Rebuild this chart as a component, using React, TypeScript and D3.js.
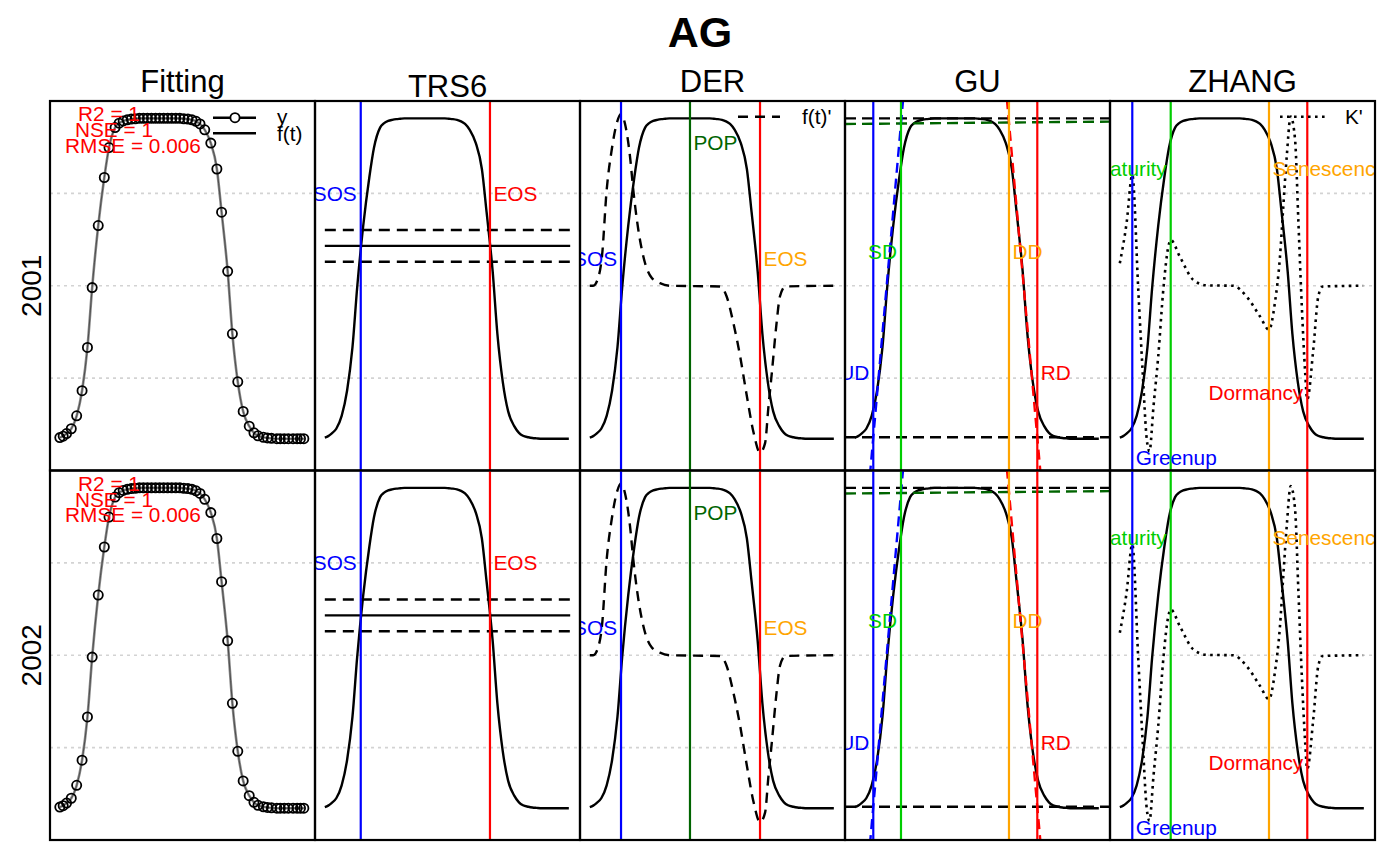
import * as d3 from 'd3'

const FONT = '"Liberation Sans", Arial, Helvetica, sans-serif'

// ---- data ----
const methods = ['Fitting', 'TRS6', 'DER', 'GU', 'ZHANG']
const years = ['2001', '2002']
const chartTitle = 'AG'

// observations (day of year) and fitted values (R2 = 1, so f(t) passes through them)
const obsDay = [1, 6, 11, 18, 26, 34, 42, 49, 58, 67, 74, 83,
  89, 95, 101, 107, 113, 119, 125, 131, 137, 143, 149, 155, 161, 167, 173, 179, 185, 191, 197, 203,
  209, 216, 225, 234, 241, 250, 257, 265, 273, 282, 289, 295,
  303, 309, 315, 323, 328, 334, 340, 347, 353, 358, 363]
const obsVal = [0.089, 0.093, 0.100, 0.113, 0.148, 0.216, 0.333, 0.495, 0.663, 0.793, 0.874, 0.928,
  0.940, 0.946, 0.949, 0.951, 0.952, 0.953, 0.953, 0.953, 0.953, 0.953, 0.953, 0.953, 0.953, 0.953, 0.953, 0.953, 0.952, 0.951, 0.949, 0.945,
  0.938, 0.922, 0.886, 0.816, 0.699, 0.539, 0.370, 0.240, 0.160, 0.120, 0.102, 0.094,
  0.090, 0.088, 0.087, 0.086, 0.086, 0.086, 0.086, 0.086, 0.086, 0.086, 0.086]
const fitStats = ['R2 = 1', 'NSE = 1', 'RMSE = 0.006']

// first derivative f(t)' (rescaled)
const derDay = [1, 6, 14, 19, 26, 33.5, 41, 47.3, 53, 60.6, 65.5, 73, 83, 93, 105, 120,
  194, 204, 214, 224, 234, 244, 253.5, 261, 266, 271, 278, 283, 291, 365]
const derVal = [0.5, 0.5, 0.525, 0.579, 0.759, 0.868, 0.94, 0.965, 0.94, 0.85, 0.759, 0.651, 0.561, 0.521, 0.507, 0.5,
  0.498, 0.471, 0.399, 0.309, 0.201, 0.102, 0.048, 0.074, 0.173, 0.264, 0.398, 0.471, 0.498, 0.5]

// rate of change of curvature K' (rescaled)
const kDay = [1, 11, 19.5, 28.4, 35, 41, 45, 51, 58, 65.5, 73, 76.5, 90, 110, 130, 169, 189, 209, 222.3,
  231, 238.6, 243.5, 248.6, 254.5, 261, 266, 271, 276, 279, 288, 295.4, 302, 362]
const kVal = [0.561, 0.669, 0.8, 0.489, 0.264, 0.084, 0.052, 0.174, 0.309, 0.489, 0.606, 0.624, 0.579, 0.516, 0.501, 0.5, 0.471, 0.417, 0.381,
  0.453, 0.579, 0.714, 0.849, 0.958, 0.895, 0.669, 0.444, 0.264, 0.192, 0.327, 0.471, 0.498, 0.5]

const trsNames = ['SOS', 'EOS']
const trsDates = [54.3, 246]
const trsLevels = [0.565, 0.608, 0.651]

const derNames = ['SOS', 'POP', 'EOS']
const derDates = [47.3, 149.6, 253.5]

const guNames = ['UD', 'SD', 'DD', 'RD']
const guDates = [28.4, 69.5, 229.7, 271.7]
const guBase = 0.09
const guPeak = 0.953
const guPlateau = [0.938, 0.944] // at day 1 and day 365

const zhangNames = ['Greenup', 'Maturity', 'Senescence', 'Dormancy']
const zhangDates = [19.5, 76.5, 222.3, 279.1]

// ---- layout / style ----
const LEFT = 50, PANEL_W = 265, TOP = 101, PANEL_H = 369.5
const dayDomain = [1 - 0.04 * 364, 365 + 0.04 * 364]
const RED = '#FF0000', BLUE = '#0000FF', ORANGE = '#FFA500', DKGREEN = '#006400', GREEN = '#00CD00'
const LW = 2.4
const LABEL_SIZE = 20.8

const labelStyle: Record<string, { line: string[]; text: string[]; side: string[]; level: number[] }> = {
  TRS6:  { line: [BLUE, RED], text: [BLUE, RED], side: ['l', 'r'], level: [0.751, 0.751] },
  DER:   { line: [BLUE, DKGREEN, RED], text: [BLUE, DKGREEN, ORANGE], side: ['l', 'r', 'r'], level: [0.575, 0.887, 0.575] },
  GU:    { line: [BLUE, GREEN, ORANGE, RED], text: [BLUE, GREEN, ORANGE, RED], side: ['l', 'l', 'r', 'r'], level: [0.264, 0.593, 0.593, 0.264] },
  ZHANG: { line: [BLUE, GREEN, ORANGE, RED], text: [BLUE, GREEN, ORANGE, RED], side: ['r', 'l', 'r', 'l'], level: [0.034, 0.818, 0.818, 0.21] },
}

function Panel({ row, col }: { row: number; col: number }) {
  const x = d3.scaleLinear().domain(dayDomain).range([LEFT + col * PANEL_W, LEFT + (col + 1) * PANEL_W])
  const y = d3.scaleLinear().domain([0, 1]).range([TOP + (row + 1) * PANEL_H, TOP + row * PANEL_H])
  const [xl, xr] = x.range()
  const [yb, yt] = y.range()
  const method = methods[col]
  const first = row === 0
  const clipId = `clip-${row}-${col}`
  const line = d3.line<[number, number]>().x(d => x(d[0])).y(d => y(d[1])).curve(d3.curveMonotoneX)
  const fitPath = line(obsDay.map((d, i) => [d, obsVal[i]] as [number, number])) ?? ''

  const vline = (day: number, color: string, key: string) => (
    <line key={key} x1={x(day)} x2={x(day)} y1={yt} y2={yb} stroke={color} strokeWidth={2.2} />
  )
  const label = (day: number, level: number, txt: string, color: string, side: string, key: string) => (
    <text key={key} x={x(day) + (side === 'r' ? 3.5 : -4)} y={y(level)}
      textAnchor={side === 'r' ? 'start' : 'end'} dominantBaseline="central"
      fontSize={LABEL_SIZE} fill={color} fontFamily={FONT}>{txt}</text>
  )
  const hline = (v: number, color: string, dash: string | undefined, key: string, d0 = dayDomain[0], d1 = dayDomain[1]) => (
    <line key={key} x1={x(d0)} x2={x(d1)} y1={y(v)} y2={y(v)} stroke={color} strokeWidth={LW} strokeDasharray={dash} />
  )
  const phenoMarks = (names: string[], dates: number[]) => {
    const s = labelStyle[method]
    return (
      <g>
        {dates.map((d, i) => vline(d, s.line[i], `v${i}`))}
        {dates.map((d, i) => label(d, s.level[i], names[i], s.text[i], s.side[i], `t${i}`))}
      </g>
    )
  }

  let content: any = null
  if (method === 'Fitting') {
    content = (
      <g>
        <path d={fitPath} fill="none" stroke="#8a8a8a" strokeWidth={2.6} />
        <path d={fitPath} fill="none" stroke="#333" strokeWidth={0.7} />
        {obsDay.map((d, i) => (
          <circle key={i} cx={x(d)} cy={y(obsVal[i])} r={4.6} fill="none" stroke="#000" strokeWidth={1.8} />
        ))}
        {fitStats.map((s, i) => (
          <text key={s} x={xl + [59, 64, 83][i]} y={yt + [12.5, 28.5, 44][i]} textAnchor="middle"
            dominantBaseline="central" fontSize={LABEL_SIZE} fill={RED} fontFamily={FONT}>{s}</text>
        ))}
        {first && (
          <g fontFamily={FONT} fontSize={LABEL_SIZE}>
            <line x1={xl + 163} x2={xl + 206} y1={yt + 16.7} y2={yt + 16.7} stroke="#000" strokeWidth={LW} />
            <circle cx={xl + 185} cy={yt + 16.7} r={4.6} fill="#fff" stroke="#000" strokeWidth={1.8} />
            <line x1={xl + 163} x2={xl + 206} y1={yt + 32.3} y2={yt + 32.3} stroke="#000" strokeWidth={LW} />
            <text x={xl + 227} y={yt + 15} dominantBaseline="central">y</text>
            <text x={xl + 227} y={yt + 32.5} dominantBaseline="central">f(t)</text>
          </g>
        )}
      </g>
    )
  } else if (method === 'TRS6') {
    content = (
      <g>
        <path d={fitPath} fill="none" stroke="#000" strokeWidth={LW} />
        {hline(trsLevels[0], '#000', '11 7', 'lo', 1, 365)}
        {hline(trsLevels[1], '#000', undefined, 'mid', 1, 365)}
        {hline(trsLevels[2], '#000', '11 7', 'hi', 1, 365)}
        {phenoMarks(trsNames, trsDates)}
      </g>
    )
  } else if (method === 'DER') {
    const derPath = line(derDay.map((d, i) => [d, derVal[i]] as [number, number])) ?? ''
    content = (
      <g>
        <path d={fitPath} fill="none" stroke="#000" strokeWidth={LW} />
        <path d={derPath} fill="none" stroke="#000" strokeWidth={LW} strokeDasharray="10 7" />
        {phenoMarks(derNames, derDates)}
        {first && (
          <g fontFamily={FONT} fontSize={LABEL_SIZE}>
            <line x1={xl + 158} x2={xl + 200} y1={yt + 15.7} y2={yt + 15.7} stroke="#000" strokeWidth={LW} strokeDasharray="10 7" />
            <text x={xl + 222} y={yt + 15.7} dominantBaseline="central">f(t)'</text>
          </g>
        )}
      </g>
    )
  } else if (method === 'GU') {
    const plateau = (d: number) => guPlateau[0] + (guPlateau[1] - guPlateau[0]) * (d - 1) / 364
    const slopeLine = (dA: number, vA: number, dB: number, vB: number, color: string, key: string) => {
      const dayAt = (v: number) => dA + (v - vA) * (dB - dA) / (vB - vA)
      return <line key={key} x1={x(dayAt(-0.1))} y1={y(-0.1)} x2={x(dayAt(1.1))} y2={y(1.1)}
        stroke={color} strokeWidth={LW} strokeDasharray="10 6" />
    }
    content = (
      <g>
        <path d={fitPath} fill="none" stroke="#000" strokeWidth={LW} />
        {hline(guBase, '#000', '11 6', 'base')}
        {hline(guPeak, '#000', '11 6', 'peak')}
        <line x1={xl} x2={xr} y1={y(plateau(dayDomain[0]))} y2={y(plateau(dayDomain[1]))}
          stroke={DKGREEN} strokeWidth={LW} strokeDasharray="11 6" />
        {slopeLine(guDates[0], guBase, guDates[1], plateau(guDates[1]), BLUE, 'rec')}
        {slopeLine(guDates[2], plateau(guDates[2]), guDates[3], guBase, RED, 'sen')}
        {phenoMarks(guNames, guDates)}
      </g>
    )
  } else {
    const kPath = line(kDay.map((d, i) => [d, kVal[i]] as [number, number])) ?? ''
    content = (
      <g>
        <path d={fitPath} fill="none" stroke="#000" strokeWidth={LW} />
        <path d={kPath} fill="none" stroke="#000" strokeWidth={2.6} strokeDasharray="2.6 4.4" />
        {phenoMarks(zhangNames, zhangDates)}
        {first && (
          <g fontFamily={FONT} fontSize={LABEL_SIZE}>
            <line x1={xl + 170} x2={xl + 217} y1={yt + 15.7} y2={yt + 15.7} stroke="#000" strokeWidth={2.6} strokeDasharray="2.6 4.4" />
            <text x={xl + 235} y={yt + 15.7} dominantBaseline="central">K'</text>
          </g>
        )}
      </g>
    )
  }

  return (
    <g>
      <clipPath id={clipId}>
        <rect x={xl} y={yt} width={xr - xl} height={yb - yt} />
      </clipPath>
      <g clipPath={`url(#${clipId})`}>
        {[0.25, 0.5, 0.75].map(v => (
          <line key={v} x1={xl} x2={xr} y1={y(v)} y2={y(v)} stroke="#d3d3d3" strokeWidth={1.6} strokeDasharray="3 4" />
        ))}
        {content}
      </g>
      <rect x={xl} y={yt} width={xr - xl} height={yb - yt} fill="none" stroke="#000" strokeWidth={2.2} />
    </g>
  )
}

export default function App() {
  return (
    <svg width={1400} height={866} style={{ position: 'absolute', left: 0, top: 0, background: '#fff' }}>
      <text x={700} y={47} textAnchor="middle" fontFamily={FONT} fontWeight="bold" fontSize={43}>{chartTitle}</text>
      {methods.map((m, c) => (
        <text key={m} x={LEFT + (c + 0.5) * PANEL_W} y={m === 'TRS6' ? 96.5 : 91.5} textAnchor="middle"
          fontFamily={FONT} fontSize={31}>{m}</text>
      ))}
      {years.map((yr, r) => (
        <text key={yr} transform={`translate(41,${TOP + (r + 0.5) * PANEL_H}) rotate(-90)`} textAnchor="middle"
          fontFamily={FONT} fontSize={28}>{yr}</text>
      ))}
      {years.map((_, r) => methods.map((_, c) => <Panel key={`${r}-${c}`} row={r} col={c} />))}
    </svg>
  )
}
